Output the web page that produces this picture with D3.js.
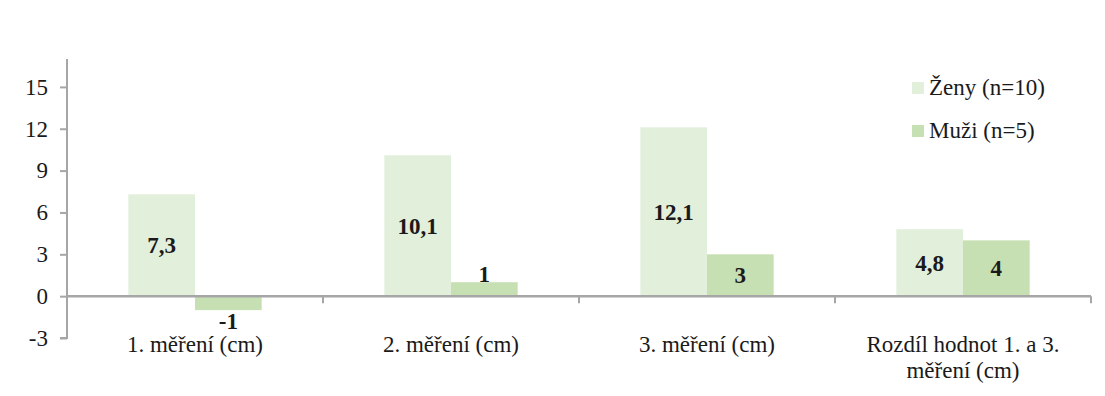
<!DOCTYPE html>
<html>
<head>
<meta charset="utf-8">
<script src="https://cdn.jsdelivr.net/npm/d3@7"></script>
<style>
  body { margin: 0; background: #fff; }
  text { font-family: "Liberation Serif", "Times New Roman", serif; fill: #1a1a1a; }
</style>
</head>
<body>
<div id="chart"></div>
<script>
// data
const categories = ["1. měření (cm)", "2. měření (cm)", "3. měření (cm)", "Rozdíl hodnot 1. a 3. měření (cm)"];
const seriesNames = ["Ženy (n=10)", "Muži (n=5)"];
const zeny = [7.3, 10.1, 12.1, 4.8];
const muzi = [-1, 1, 3, 4];
const yTicks = [-3, 0, 3, 6, 9, 12, 15];
const colors = ["#e2efda", "#c6e0b4"];

const width = 1105, height = 396;
const margin = { left: 67, right: 14, top: 59, bottom: 58 };
const fontSize = 23;

const rows = categories.map((c, i) => ({ cat: c, values: [zeny[i], muzi[i]] }));

const svg = d3.select("#chart").append("svg")
    .attr("width", width)
    .attr("height", height);

let x0 = d3.scaleBand()
    .domain(categories)
    .range([margin.left, width - margin.right])
    .padding(0);

let x1 = d3.scaleBand()
    .domain(seriesNames)
    .range([0, x0.bandwidth()])
    .paddingInner(0)
    .paddingOuter(0.92);

let y = d3.scaleLinear()
    .domain([-3, 17])
    .range([height - margin.bottom, margin.top]);

// bars
let groups = svg.append("g")
    .selectAll("g")
    .data(rows)
    .enter().append("g")
    .attr("transform", d => `translate(${x0(d.cat)},0)`);

groups.selectAll("rect")
    .data(d => d.values.map((v, i) => ({ v, s: seriesNames[i], i })))
    .enter().append("rect")
    .attr("x", d => x1(d.s))
    .attr("width", x1.bandwidth())
    .attr("y", d => y(Math.max(0, d.v)))
    .attr("height", d => Math.abs(y(d.v) - y(0)))
    .attr("fill", d => colors[d.i]);

// value labels, centered; small bars get the label just outside the end
groups.selectAll("text")
    .data(d => d.values.map((v, i) => ({ v, s: seriesNames[i], i })))
    .enter().append("text")
    .attr("x", d => x1(d.s) + x1.bandwidth() / 2)
    .attr("y", d => {
        let h = Math.abs(y(d.v) - y(0));
        if (h < 25) return d.v >= 0 ? y(d.v) - 8 : y(d.v) + 11;
        return (y(d.v) + y(0)) / 2;
    })
    .attr("dy", "0.35em")
    .attr("text-anchor", "middle")
    .style("font-size", fontSize + "px")
    .style("font-weight", "bold")
    .text(d => String(d.v).replace(".", ","));

// y axis
let yAxis = svg.append("g")
    .attr("transform", `translate(${margin.left},0)`)
    .call(d3.axisLeft(y).tickValues(yTicks).tickSize(7).tickPadding(12).tickFormat(d => String(d)));
yAxis.select(".domain")
    .attr("d", `M0,${y(17)}V${y(-3)}H-7`)
    .attr("stroke", "#a6a6a6")
    .attr("stroke-width", 2);
yAxis.selectAll(".tick line").attr("stroke", "#a6a6a6").attr("stroke-width", 2);
yAxis.selectAll(".tick text")
    .style("font-size", fontSize + "px")
    .style("font-family", "'Liberation Serif', 'Times New Roman', serif")
    .attr("fill", "#1a1a1a");

// x axis at zero
svg.append("line")
    .attr("x1", margin.left)
    .attr("x2", width - margin.right)
    .attr("y1", y(0))
    .attr("y2", y(0))
    .attr("stroke", "#a6a6a6")
    .attr("stroke-width", 2.5);

svg.append("g")
    .selectAll("line")
    .data(categories)
    .enter().append("line")
    .attr("x1", d => x0(d) + x0.bandwidth())
    .attr("x2", d => x0(d) + x0.bandwidth())
    .attr("y1", y(0))
    .attr("y2", y(0) + 7)
    .attr("stroke", "#a6a6a6")
    .attr("stroke-width", 2);

// category labels, wrapped to the band width
let catLabels = svg.append("g")
    .selectAll("text")
    .data(categories)
    .enter().append("text")
    .attr("x", d => x0(d) + x0.bandwidth() / 2)
    .attr("y", 352)
    .attr("text-anchor", "middle")
    .style("font-size", fontSize + "px");

catLabels.each(function (d) {
    let el = d3.select(this);
    let words = d.split(" ");
    let line = [];
    let tspan = el.append("tspan").attr("x", x0(d) + x0.bandwidth() / 2).attr("dy", 0);
    words.forEach(w => {
        line.push(w);
        tspan.text(line.join(" "));
        if (tspan.node().getComputedTextLength() > x0.bandwidth() - 20 && line.length > 1) {
            line.pop();
            tspan.text(line.join(" "));
            line = [w];
            tspan = el.append("tspan")
                .attr("x", x0(d) + x0.bandwidth() / 2)
                .attr("dy", "1.15em")
                .text(w);
        }
    });
});

// legend
let legend = svg.append("g")
    .selectAll("g")
    .data(seriesNames)
    .enter().append("g")
    .attr("transform", (d, i) => `translate(912,${82 + i * 43})`);

legend.append("rect")
    .attr("width", 12)
    .attr("height", 12)
    .attr("fill", (d, i) => colors[i]);

legend.append("text")
    .attr("x", 17)
    .attr("y", 5)
    .attr("dy", "0.35em")
    .style("font-size", fontSize + "px")
    .text(d => d);
</script>
</body>
</html>
